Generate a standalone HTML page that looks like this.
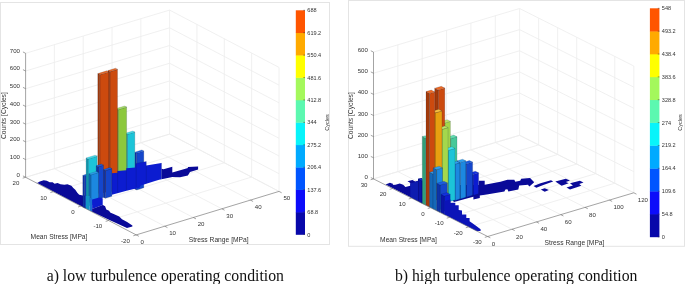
<!DOCTYPE html>
<html><head><meta charset="utf-8"><title>Rainflow histograms</title>
<style>html,body{margin:0;padding:0;background:#fff;overflow:hidden}svg{display:block}</style>
</head><body>
<svg width="685" height="284" viewBox="0 0 685 284" font-family="Liberation Sans, Arial, sans-serif">
<rect x="0" y="0" width="685" height="284" fill="#fff"/>
<rect x="0.5" y="2.5" width="329" height="242" fill="none" stroke="#e4e4e4" stroke-width="1"/>
<rect x="348.5" y="0.5" width="336" height="245.8" fill="none" stroke="#e4e4e4" stroke-width="1"/>
<line x1="25.60" y1="177.30" x2="169.60" y2="134.10" stroke="#ececec" stroke-width="0.8" />
<line x1="169.60" y1="134.10" x2="279.00" y2="191.40" stroke="#ececec" stroke-width="0.8" />
<line x1="25.60" y1="159.59" x2="169.60" y2="116.39" stroke="#ececec" stroke-width="0.8" />
<line x1="169.60" y1="116.39" x2="279.00" y2="173.69" stroke="#ececec" stroke-width="0.8" />
<line x1="25.60" y1="141.87" x2="169.60" y2="98.67" stroke="#ececec" stroke-width="0.8" />
<line x1="169.60" y1="98.67" x2="279.00" y2="155.97" stroke="#ececec" stroke-width="0.8" />
<line x1="25.60" y1="124.16" x2="169.60" y2="80.96" stroke="#ececec" stroke-width="0.8" />
<line x1="169.60" y1="80.96" x2="279.00" y2="138.26" stroke="#ececec" stroke-width="0.8" />
<line x1="25.60" y1="106.44" x2="169.60" y2="63.24" stroke="#ececec" stroke-width="0.8" />
<line x1="169.60" y1="63.24" x2="279.00" y2="120.54" stroke="#ececec" stroke-width="0.8" />
<line x1="25.60" y1="88.73" x2="169.60" y2="45.53" stroke="#ececec" stroke-width="0.8" />
<line x1="169.60" y1="45.53" x2="279.00" y2="102.83" stroke="#ececec" stroke-width="0.8" />
<line x1="25.60" y1="71.01" x2="169.60" y2="27.81" stroke="#ececec" stroke-width="0.8" />
<line x1="169.60" y1="27.81" x2="279.00" y2="85.11" stroke="#ececec" stroke-width="0.8" />
<line x1="25.60" y1="53.30" x2="169.60" y2="10.10" stroke="#ececec" stroke-width="0.8" />
<line x1="169.60" y1="10.10" x2="279.00" y2="67.40" stroke="#ececec" stroke-width="0.8" />
<line x1="54.40" y1="168.66" x2="54.40" y2="44.66" stroke="#ececec" stroke-width="0.8" />
<line x1="54.40" y1="168.66" x2="164.76" y2="226.20" stroke="#ececec" stroke-width="0.8" />
<line x1="83.20" y1="160.02" x2="83.20" y2="36.02" stroke="#ececec" stroke-width="0.8" />
<line x1="83.20" y1="160.02" x2="193.32" y2="217.50" stroke="#ececec" stroke-width="0.8" />
<line x1="112.00" y1="151.38" x2="112.00" y2="27.38" stroke="#ececec" stroke-width="0.8" />
<line x1="112.00" y1="151.38" x2="221.88" y2="208.80" stroke="#ececec" stroke-width="0.8" />
<line x1="140.80" y1="142.74" x2="140.80" y2="18.74" stroke="#ececec" stroke-width="0.8" />
<line x1="140.80" y1="142.74" x2="250.44" y2="200.10" stroke="#ececec" stroke-width="0.8" />
<line x1="169.60" y1="134.10" x2="169.60" y2="10.10" stroke="#ececec" stroke-width="0.8" />
<line x1="196.95" y1="148.43" x2="196.95" y2="24.43" stroke="#ececec" stroke-width="0.8" />
<line x1="196.95" y1="148.43" x2="53.25" y2="191.70" stroke="#ececec" stroke-width="0.8" />
<line x1="224.30" y1="162.75" x2="224.30" y2="38.75" stroke="#ececec" stroke-width="0.8" />
<line x1="224.30" y1="162.75" x2="80.90" y2="206.10" stroke="#ececec" stroke-width="0.8" />
<line x1="251.65" y1="177.07" x2="251.65" y2="53.07" stroke="#ececec" stroke-width="0.8" />
<line x1="251.65" y1="177.07" x2="108.55" y2="220.50" stroke="#ececec" stroke-width="0.8" />
<line x1="279.00" y1="191.40" x2="279.00" y2="67.40" stroke="#ececec" stroke-width="0.8" />
<line x1="25.60" y1="177.30" x2="169.60" y2="134.10" stroke="#ececec" stroke-width="0.8" />
<line x1="169.60" y1="134.10" x2="279.00" y2="191.40" stroke="#ececec" stroke-width="0.8" />
<line x1="373.50" y1="178.90" x2="519.60" y2="135.30" stroke="#ececec" stroke-width="0.8" />
<line x1="519.60" y1="135.30" x2="633.80" y2="192.80" stroke="#ececec" stroke-width="0.8" />
<line x1="373.50" y1="157.77" x2="519.60" y2="114.17" stroke="#ececec" stroke-width="0.8" />
<line x1="519.60" y1="114.17" x2="633.80" y2="171.67" stroke="#ececec" stroke-width="0.8" />
<line x1="373.50" y1="136.63" x2="519.60" y2="93.03" stroke="#ececec" stroke-width="0.8" />
<line x1="519.60" y1="93.03" x2="633.80" y2="150.53" stroke="#ececec" stroke-width="0.8" />
<line x1="373.50" y1="115.50" x2="519.60" y2="71.90" stroke="#ececec" stroke-width="0.8" />
<line x1="519.60" y1="71.90" x2="633.80" y2="129.40" stroke="#ececec" stroke-width="0.8" />
<line x1="373.50" y1="94.37" x2="519.60" y2="50.77" stroke="#ececec" stroke-width="0.8" />
<line x1="519.60" y1="50.77" x2="633.80" y2="108.27" stroke="#ececec" stroke-width="0.8" />
<line x1="373.50" y1="73.23" x2="519.60" y2="29.63" stroke="#ececec" stroke-width="0.8" />
<line x1="519.60" y1="29.63" x2="633.80" y2="87.13" stroke="#ececec" stroke-width="0.8" />
<line x1="373.50" y1="52.10" x2="519.60" y2="8.50" stroke="#ececec" stroke-width="0.8" />
<line x1="519.60" y1="8.50" x2="633.80" y2="66.00" stroke="#ececec" stroke-width="0.8" />
<line x1="397.85" y1="171.63" x2="397.85" y2="44.83" stroke="#ececec" stroke-width="0.8" />
<line x1="397.85" y1="171.63" x2="512.05" y2="229.22" stroke="#ececec" stroke-width="0.8" />
<line x1="422.20" y1="164.37" x2="422.20" y2="37.57" stroke="#ececec" stroke-width="0.8" />
<line x1="422.20" y1="164.37" x2="536.40" y2="221.93" stroke="#ececec" stroke-width="0.8" />
<line x1="446.55" y1="157.10" x2="446.55" y2="30.30" stroke="#ececec" stroke-width="0.8" />
<line x1="446.55" y1="157.10" x2="560.75" y2="214.65" stroke="#ececec" stroke-width="0.8" />
<line x1="470.90" y1="149.83" x2="470.90" y2="23.03" stroke="#ececec" stroke-width="0.8" />
<line x1="470.90" y1="149.83" x2="585.10" y2="207.37" stroke="#ececec" stroke-width="0.8" />
<line x1="495.25" y1="142.57" x2="495.25" y2="15.77" stroke="#ececec" stroke-width="0.8" />
<line x1="495.25" y1="142.57" x2="609.45" y2="200.08" stroke="#ececec" stroke-width="0.8" />
<line x1="519.60" y1="135.30" x2="519.60" y2="8.50" stroke="#ececec" stroke-width="0.8" />
<line x1="538.63" y1="144.88" x2="538.63" y2="18.08" stroke="#ececec" stroke-width="0.8" />
<line x1="538.63" y1="144.88" x2="392.53" y2="188.50" stroke="#ececec" stroke-width="0.8" />
<line x1="557.67" y1="154.47" x2="557.67" y2="27.67" stroke="#ececec" stroke-width="0.8" />
<line x1="557.67" y1="154.47" x2="411.57" y2="198.10" stroke="#ececec" stroke-width="0.8" />
<line x1="576.70" y1="164.05" x2="576.70" y2="37.25" stroke="#ececec" stroke-width="0.8" />
<line x1="576.70" y1="164.05" x2="430.60" y2="207.70" stroke="#ececec" stroke-width="0.8" />
<line x1="595.73" y1="173.63" x2="595.73" y2="46.83" stroke="#ececec" stroke-width="0.8" />
<line x1="595.73" y1="173.63" x2="449.63" y2="217.30" stroke="#ececec" stroke-width="0.8" />
<line x1="614.77" y1="183.22" x2="614.77" y2="56.42" stroke="#ececec" stroke-width="0.8" />
<line x1="614.77" y1="183.22" x2="468.67" y2="226.90" stroke="#ececec" stroke-width="0.8" />
<line x1="633.80" y1="192.80" x2="633.80" y2="66.00" stroke="#ececec" stroke-width="0.8" />
<line x1="373.50" y1="178.90" x2="519.60" y2="135.30" stroke="#ececec" stroke-width="0.8" />
<line x1="519.60" y1="135.30" x2="633.80" y2="192.80" stroke="#ececec" stroke-width="0.8" />
<polygon points="36.8,183.2 39.8,181.4 43.7,180.3 46.7,180.8 49.7,182.2 52.6,182.2 54.6,183.8 57.5,183.0 60.5,184.2 64.4,184.8 67.4,184.2 71.4,185.8 73.3,188.1 75.3,189.7 77.3,192.7 79.2,194.7 82.8,195.6 85.8,195.6 85.8,208.4 36.8,182.7" fill="#0a0a98"/>
<polygon points="161.5,168.8 163.5,169.3 172.3,166.7 172.3,172.5 182.0,169.8 187.9,168.0 187.9,167.0 198.1,166.5 198.1,169.4 190.0,172.0 187.9,175.6 180.0,177.3 172.3,177.0 170.0,177.4 161.5,179.2" fill="#0a0a98"/>
<polygon points="84.8,176.3 89.0,175.0 89.0,206.7 84.8,208.0" fill="#1446cc" stroke="#00103066" stroke-width="0.4" stroke-linejoin="round"/>
<polygon points="82.8,175.3 84.8,176.3 84.8,208.0 82.8,207.0" fill="#0e34a8" stroke="#00103066" stroke-width="0.4" stroke-linejoin="round"/>
<polygon points="84.8,176.3 89.0,175.0 87.0,174.0 82.8,175.3" fill="#1c5ce0" stroke="#00103066" stroke-width="0.4" stroke-linejoin="round"/>
<polygon points="136.6,153.2 143.8,151.0 143.8,187.8 136.6,190.0" fill="#1446cc" stroke="#00103066" stroke-width="0.4" stroke-linejoin="round"/>
<polygon points="134.6,152.2 136.6,153.2 136.6,190.0 134.6,189.0" fill="#0e34a8" stroke="#00103066" stroke-width="0.4" stroke-linejoin="round"/>
<polygon points="136.6,153.2 143.8,151.0 141.8,149.9 134.6,152.2" fill="#1c5ce0" stroke="#00103066" stroke-width="0.4" stroke-linejoin="round"/>
<polygon points="127.4,134.3 134.8,132.0 134.8,187.7 127.4,190.0" fill="#1cc4d8" stroke="#00103066" stroke-width="0.4" stroke-linejoin="round"/>
<polygon points="125.4,133.3 127.4,134.3 127.4,190.0 125.4,189.0" fill="#149cb0" stroke="#00103066" stroke-width="0.4" stroke-linejoin="round"/>
<polygon points="127.4,134.3 134.8,132.0 132.8,131.0 125.4,133.3" fill="#40e4f0" stroke="#00103066" stroke-width="0.4" stroke-linejoin="round"/>
<polygon points="118.2,109.6 126.6,107.0 126.6,187.4 118.2,190.0" fill="#8cc83c" stroke="#00103066" stroke-width="0.4" stroke-linejoin="round"/>
<polygon points="116.2,108.6 118.2,109.6 118.2,190.0 116.2,189.0" fill="#6c9c2c" stroke="#00103066" stroke-width="0.4" stroke-linejoin="round"/>
<polygon points="118.2,109.6 126.6,107.0 124.6,106.0 116.2,108.6" fill="#acE464" stroke="#00103066" stroke-width="0.4" stroke-linejoin="round"/>
<polygon points="109.9,71.6 117.5,69.3 117.5,189.7 109.9,192.0" fill="#cc4a0e" stroke="#00103066" stroke-width="0.4" stroke-linejoin="round"/>
<polygon points="107.9,70.6 109.9,71.6 109.9,192.0 107.9,191.0" fill="#a43a0a" stroke="#00103066" stroke-width="0.4" stroke-linejoin="round"/>
<polygon points="109.9,71.6 117.5,69.3 115.5,68.2 107.9,70.6" fill="#ee6a24" stroke="#00103066" stroke-width="0.4" stroke-linejoin="round"/>
<polygon points="99.8,74.6 108.7,71.9 108.7,191.3 99.8,194.0" fill="#cc4a0e" stroke="#00103066" stroke-width="0.4" stroke-linejoin="round"/>
<polygon points="97.8,73.6 99.8,74.6 99.8,194.0 97.8,193.0" fill="#a43a0a" stroke="#00103066" stroke-width="0.4" stroke-linejoin="round"/>
<polygon points="99.8,74.6 108.7,71.9 106.7,70.8 97.8,73.6" fill="#ee6a24" stroke="#00103066" stroke-width="0.4" stroke-linejoin="round"/>
<polygon points="88.1,159.0 97.1,156.2 97.1,203.2 88.1,206.0" fill="#1cc4d8" stroke="#00103066" stroke-width="0.4" stroke-linejoin="round"/>
<polygon points="86.1,158.0 88.1,159.0 88.1,206.0 86.1,205.0" fill="#149cb0" stroke="#00103066" stroke-width="0.4" stroke-linejoin="round"/>
<polygon points="88.1,159.0 97.1,156.2 95.1,155.2 86.1,158.0" fill="#40e4f0" stroke="#00103066" stroke-width="0.4" stroke-linejoin="round"/>
<polygon points="111.8,173.2 117.6,172.8 117.6,170.9 126.4,170.3 126.4,168.3 135.4,167.6 136.2,163.4 146.3,161.4 146.3,165.6 161.5,162.9 161.5,179.2 159.2,179.7 155.0,180.9 140.8,185.6 139.4,187.7 127.4,190.5 111.9,194.7" fill="#0c1cd0"/>
<path d="M136.2,187 V163.4 L146.3,161.4 V183.5 M161.5,162.9 V178.5 M126.4,168.3 V190 M117.6,170.9 V192.5" fill="none" stroke="#00104055" stroke-width="0.5"/>
<polygon points="105.3,170.6 111.9,168.6 111.9,196.2 105.3,198.2" fill="#1446cc" stroke="#00103066" stroke-width="0.4" stroke-linejoin="round"/>
<polygon points="103.3,169.6 105.3,170.6 105.3,198.2 103.3,197.2" fill="#0e34a8" stroke="#00103066" stroke-width="0.4" stroke-linejoin="round"/>
<polygon points="105.3,170.6 111.9,168.6 109.9,167.5 103.3,169.6" fill="#1c5ce0" stroke="#00103066" stroke-width="0.4" stroke-linejoin="round"/>
<polygon points="98.2,166.8 103.5,165.2 103.5,197.4 98.2,199.0" fill="#1446cc" stroke="#00103066" stroke-width="0.4" stroke-linejoin="round"/>
<polygon points="96.2,165.8 98.2,166.8 98.2,199.0 96.2,198.0" fill="#0e34a8" stroke="#00103066" stroke-width="0.4" stroke-linejoin="round"/>
<polygon points="98.2,166.8 103.5,165.2 101.5,164.1 96.2,165.8" fill="#1c5ce0" stroke="#00103066" stroke-width="0.4" stroke-linejoin="round"/>
<polygon points="90.9,174.8 98.6,172.4 98.6,200.6 90.9,203.0" fill="#1c88e0" stroke="#00103066" stroke-width="0.4" stroke-linejoin="round"/>
<polygon points="88.9,173.8 90.9,174.8 90.9,203.0 88.9,202.0" fill="#1468b8" stroke="#00103066" stroke-width="0.4" stroke-linejoin="round"/>
<polygon points="90.9,174.8 98.6,172.4 96.6,171.4 88.9,173.8" fill="#30a0f0" stroke="#00103066" stroke-width="0.4" stroke-linejoin="round"/>
<polygon points="85.8,196.0 89.7,196.0 89.7,210.4 85.8,208.4" fill="#1494c4"/>
<polygon points="89.7,198.0 92.1,198.0 92.1,211.7 89.7,210.4" fill="#1870d4"/>
<polygon points="92.1,199.5 99.2,197.5 102.7,198.2 102.7,205.0 92.1,209.0" fill="#0c1cd0"/>
<polygon points="92.1,209.0 102.7,205.0 102.9,205.1 105.1,206.3 106.3,209.6 109.1,210.8 110.2,212.5 115.3,214.7 119.2,216.4 122.0,219.2 127.1,222.0 132.4,225.4 132.4,226.6 127.0,228.0 110.0,220.3 92.1,211.7" fill="#0a0a98"/>
<polygon points="385.6,184.5 389.9,182.7 393.4,184.1 392.6,184.9 395.5,184.8 399.7,183.4 403.2,184.8 405.4,186.9 410.3,185.8 410.3,183.0 407.5,181.3 412.4,179.9 415.2,181.5 418.0,180.8 418.0,178.7 422.3,178.0 422.3,203.3" fill="#0a0a98"/>
<polygon points="410.3,183.4 415.2,182.0 418.0,181.2 418.0,201.2 410.3,197.3" fill="#0e1cb0"/>
<polygon points="533.5,186.1 540.5,183.3 551.0,180.2 553.2,181.6 543.3,185.0 536.3,187.8" fill="#0a0a98"/>
<polygon points="540.8,189.6 544.7,188.2 548.9,190.1 544.7,191.8" fill="#0a0a98"/>
<polygon points="555.3,181.6 565.8,178.7 570.0,180.5 565.8,181.9 568.7,183.3 561.6,185.8" fill="#0a0a98"/>
<polygon points="570.0,183.3 579.9,180.8 583.5,182.6 579.2,184.0 581.3,185.8 570.0,189.6 566.5,187.5 572.9,185.4" fill="#0a0a98"/>
<polygon points="478.8,180.7 484.7,180.7 484.7,184.7 492.6,183.3 500.5,181.7 507.4,179.7 514.3,179.7 515.3,181.7 520.2,180.7 521.2,178.7 530.1,178.1 534.2,182.2 530.6,185.4 529.1,186.6 528.1,184.7 519.2,185.6 518.3,189.6 508.4,191.6 507.4,189.2 505.4,189.6 504.4,191.6 486.7,194.5 479.8,195.5 479.8,197.9 473.4,199.6 473.4,196.8 465.0,199.0 454.0,202.0 452.0,199.8 452.0,185.0 478.8,185.0" fill="#0a0a98"/>
<polygon points="450.6,138.6 457.0,136.7 457.0,196.1 450.6,198.0" fill="#48c898" stroke="#00103066" stroke-width="0.4" stroke-linejoin="round"/>
<polygon points="447.4,137.0 450.6,138.6 450.6,198.0 447.4,196.4" fill="#30a078" stroke="#00103066" stroke-width="0.4" stroke-linejoin="round"/>
<polygon points="450.6,138.6 457.0,136.7 453.8,135.1 447.4,137.0" fill="#60e0b0" stroke="#00103066" stroke-width="0.4" stroke-linejoin="round"/>
<polygon points="444.6,123.0 450.4,121.3 450.4,196.3 444.6,198.0" fill="#a4d84c" stroke="#00103066" stroke-width="0.4" stroke-linejoin="round"/>
<polygon points="441.4,121.4 444.6,123.0 444.6,198.0 441.4,196.4" fill="#80b038" stroke="#00103066" stroke-width="0.4" stroke-linejoin="round"/>
<polygon points="444.6,123.0 450.4,121.3 447.2,119.7 441.4,121.4" fill="#bce868" stroke="#00103066" stroke-width="0.4" stroke-linejoin="round"/>
<polygon points="438.2,90.0 444.8,88.1 444.8,198.1 438.2,200.0" fill="#cc4a0e" stroke="#00103066" stroke-width="0.4" stroke-linejoin="round"/>
<polygon points="434.7,88.2 438.2,90.0 438.2,200.0 434.7,198.2" fill="#a43a0a" stroke="#00103066" stroke-width="0.4" stroke-linejoin="round"/>
<polygon points="438.2,90.0 444.8,88.1 441.3,86.3 434.7,88.2" fill="#ee6a24" stroke="#00103066" stroke-width="0.4" stroke-linejoin="round"/>
<polygon points="421.9,180.8 424.0,180.2 424.0,202.6 421.9,203.2" fill="#0c1cd0" stroke="#00103066" stroke-width="0.4" stroke-linejoin="round"/>
<polygon points="418.5,179.1 421.9,180.8 421.9,203.2 418.5,201.5" fill="#0a14a8" stroke="#00103066" stroke-width="0.4" stroke-linejoin="round"/>
<polygon points="421.9,180.8 424.0,180.2 420.6,178.5 418.5,179.1" fill="#1430e0" stroke="#00103066" stroke-width="0.4" stroke-linejoin="round"/>
<polygon points="425.7,138.2 428.5,137.4 428.5,204.3 425.7,205.1" fill="#48c898" stroke="#00103066" stroke-width="0.4" stroke-linejoin="round"/>
<polygon points="422.3,136.5 425.7,138.2 425.7,205.1 422.3,203.4" fill="#30a078" stroke="#00103066" stroke-width="0.4" stroke-linejoin="round"/>
<polygon points="425.7,138.2 428.5,137.4 425.1,135.7 422.3,136.5" fill="#60e0b0" stroke="#00103066" stroke-width="0.4" stroke-linejoin="round"/>
<polygon points="473.1,174.4 478.6,172.8 478.6,193.8 473.1,195.4" fill="#0c1cd0" stroke="#00103066" stroke-width="0.4" stroke-linejoin="round"/>
<polygon points="469.9,172.8 473.1,174.4 473.1,195.4 469.9,193.8" fill="#0a14a8" stroke="#00103066" stroke-width="0.4" stroke-linejoin="round"/>
<polygon points="473.1,174.4 478.6,172.8 475.4,171.2 469.9,172.8" fill="#1430e0" stroke="#00103066" stroke-width="0.4" stroke-linejoin="round"/>
<polygon points="466.2,164.0 472.6,162.1 472.6,195.3 466.2,197.2" fill="#1446cc" stroke="#00103066" stroke-width="0.4" stroke-linejoin="round"/>
<polygon points="463.0,162.4 466.2,164.0 466.2,197.2 463.0,195.6" fill="#0e34a8" stroke="#00103066" stroke-width="0.4" stroke-linejoin="round"/>
<polygon points="466.2,164.0 472.6,162.1 469.4,160.5 463.0,162.4" fill="#1c5ce0" stroke="#00103066" stroke-width="0.4" stroke-linejoin="round"/>
<polygon points="460.2,162.4 465.8,160.8 465.8,197.3 460.2,198.9" fill="#1c88e0" stroke="#00103066" stroke-width="0.4" stroke-linejoin="round"/>
<polygon points="457.0,160.8 460.2,162.4 460.2,198.9 457.0,197.3" fill="#1468b8" stroke="#00103066" stroke-width="0.4" stroke-linejoin="round"/>
<polygon points="460.2,162.4 465.8,160.8 462.6,159.2 457.0,160.8" fill="#30a0f0" stroke="#00103066" stroke-width="0.4" stroke-linejoin="round"/>
<polygon points="455.0,164.2 459.8,162.8 459.8,199.0 455.0,200.4" fill="#1c88e0" stroke="#00103066" stroke-width="0.4" stroke-linejoin="round"/>
<polygon points="451.8,162.6 455.0,164.2 455.0,200.4 451.8,198.8" fill="#1468b8" stroke="#00103066" stroke-width="0.4" stroke-linejoin="round"/>
<polygon points="455.0,164.2 459.8,162.8 456.6,161.2 451.8,162.6" fill="#30a0f0" stroke="#00103066" stroke-width="0.4" stroke-linejoin="round"/>
<polygon points="448.2,150.4 455.0,148.4 455.0,200.0 448.2,202.0" fill="#1cc4d8" stroke="#00103066" stroke-width="0.4" stroke-linejoin="round"/>
<polygon points="445.0,148.8 448.2,150.4 448.2,202.0 445.0,200.4" fill="#149cb0" stroke="#00103066" stroke-width="0.4" stroke-linejoin="round"/>
<polygon points="448.2,150.4 455.0,148.4 451.8,146.8 445.0,148.8" fill="#40e4f0" stroke="#00103066" stroke-width="0.4" stroke-linejoin="round"/>
<polygon points="442.0,129.4 448.1,127.6 448.1,198.2 442.0,200.0" fill="#a4d84c" stroke="#00103066" stroke-width="0.4" stroke-linejoin="round"/>
<polygon points="438.8,127.8 442.0,129.4 442.0,200.0 438.8,198.4" fill="#80b038" stroke="#00103066" stroke-width="0.4" stroke-linejoin="round"/>
<polygon points="442.0,129.4 448.1,127.6 444.9,126.0 438.8,127.8" fill="#bce868" stroke="#00103066" stroke-width="0.4" stroke-linejoin="round"/>
<polygon points="435.4,112.8 442.0,110.9 442.0,198.1 435.4,200.0" fill="#e8a010" stroke="#00103066" stroke-width="0.4" stroke-linejoin="round"/>
<polygon points="432.2,111.2 435.4,112.8 435.4,200.0 432.2,198.4" fill="#b87c0c" stroke="#00103066" stroke-width="0.4" stroke-linejoin="round"/>
<polygon points="435.4,112.8 442.0,110.9 438.8,109.3 432.2,111.2" fill="#f8c040" stroke="#00103066" stroke-width="0.4" stroke-linejoin="round"/>
<polygon points="429.5,93.4 434.8,91.9 434.8,205.5 429.5,207.0" fill="#cc4a0e" stroke="#00103066" stroke-width="0.4" stroke-linejoin="round"/>
<polygon points="426.0,91.6 429.5,93.4 429.5,207.0 426.0,205.2" fill="#a43a0a" stroke="#00103066" stroke-width="0.4" stroke-linejoin="round"/>
<polygon points="429.5,93.4 434.8,91.9 431.3,90.1 426.0,91.6" fill="#ee6a24" stroke="#00103066" stroke-width="0.4" stroke-linejoin="round"/>
<polygon points="434.8,113.4 436.0,112.8 436.0,200.0 434.8,200.0" fill="#b87c0c"/>
<polygon points="433.0,174.0 436.0,173.1 436.0,207.9 433.0,208.8" fill="#1c88e0" stroke="#00103066" stroke-width="0.4" stroke-linejoin="round"/>
<polygon points="429.6,172.3 433.0,174.0 433.0,208.8 429.6,207.0" fill="#1468b8" stroke="#00103066" stroke-width="0.4" stroke-linejoin="round"/>
<polygon points="433.0,174.0 436.0,173.1 432.6,171.4 429.6,172.3" fill="#30a0f0" stroke="#00103066" stroke-width="0.4" stroke-linejoin="round"/>
<polygon points="436.6,169.6 442.5,167.9 442.5,208.9 436.6,210.6" fill="#1c88e0" stroke="#00103066" stroke-width="0.4" stroke-linejoin="round"/>
<polygon points="433.2,167.9 436.6,169.6 436.6,210.6 433.2,208.9" fill="#1468b8" stroke="#00103066" stroke-width="0.4" stroke-linejoin="round"/>
<polygon points="436.6,169.6 442.5,167.9 439.1,166.2 433.2,167.9" fill="#30a0f0" stroke="#00103066" stroke-width="0.4" stroke-linejoin="round"/>
<polygon points="440.2,185.0 447.4,182.9 447.4,210.3 440.2,212.4" fill="#1446cc" stroke="#00103066" stroke-width="0.4" stroke-linejoin="round"/>
<polygon points="436.8,183.3 440.2,185.0 440.2,212.4 436.8,210.7" fill="#0e34a8" stroke="#00103066" stroke-width="0.4" stroke-linejoin="round"/>
<polygon points="440.2,185.0 447.4,182.9 444.0,181.2 436.8,183.3" fill="#1c5ce0" stroke="#00103066" stroke-width="0.4" stroke-linejoin="round"/>
<polygon points="444.4,196.0 450.2,194.3 450.2,212.9 444.4,214.5" fill="#0c1cd0" stroke="#00103066" stroke-width="0.4" stroke-linejoin="round"/>
<polygon points="441.0,194.3 444.4,196.0 444.4,214.5 441.0,212.8" fill="#0a14a8" stroke="#00103066" stroke-width="0.4" stroke-linejoin="round"/>
<polygon points="444.4,196.0 450.2,194.3 446.8,192.6 441.0,194.3" fill="#1430e0" stroke="#00103066" stroke-width="0.4" stroke-linejoin="round"/>
<polygon points="444.4,214.5 444.4,201.0 450.5,199.4 450.5,202.7 455.3,202.7 455.3,205.3 458.7,205.3 458.7,210.0 462.0,210.4 462.0,214.6 466.3,214.6 466.3,218.0 469.6,218.0 469.6,221.3 475.6,225.6 480.6,229.3 480.6,231.0 476.6,230.9" fill="#0c14b8"/>
<line x1="25.60" y1="177.30" x2="25.60" y2="53.30" stroke="#666" stroke-width="0.6" />
<line x1="25.60" y1="177.30" x2="136.20" y2="234.90" stroke="#666" stroke-width="0.6" />
<line x1="136.20" y1="234.90" x2="279.00" y2="191.40" stroke="#666" stroke-width="0.6" />
<line x1="25.60" y1="177.30" x2="22.94" y2="175.91" stroke="#666" stroke-width="0.6" />
<text x="20.00" y="176.70" font-size="6.1" text-anchor="end" fill="#333" >0</text>
<line x1="25.60" y1="159.59" x2="22.94" y2="158.20" stroke="#666" stroke-width="0.6" />
<text x="20.00" y="158.99" font-size="6.1" text-anchor="end" fill="#333" >100</text>
<line x1="25.60" y1="141.87" x2="22.94" y2="140.49" stroke="#666" stroke-width="0.6" />
<text x="20.00" y="141.27" font-size="6.1" text-anchor="end" fill="#333" >200</text>
<line x1="25.60" y1="124.16" x2="22.94" y2="122.77" stroke="#666" stroke-width="0.6" />
<text x="20.00" y="123.56" font-size="6.1" text-anchor="end" fill="#333" >300</text>
<line x1="25.60" y1="106.44" x2="22.94" y2="105.06" stroke="#666" stroke-width="0.6" />
<text x="20.00" y="105.84" font-size="6.1" text-anchor="end" fill="#333" >400</text>
<line x1="25.60" y1="88.73" x2="22.94" y2="87.34" stroke="#666" stroke-width="0.6" />
<text x="20.00" y="88.13" font-size="6.1" text-anchor="end" fill="#333" >500</text>
<line x1="25.60" y1="71.01" x2="22.94" y2="69.63" stroke="#666" stroke-width="0.6" />
<text x="20.00" y="70.41" font-size="6.1" text-anchor="end" fill="#333" >600</text>
<line x1="25.60" y1="53.30" x2="22.94" y2="51.91" stroke="#666" stroke-width="0.6" />
<text x="20.00" y="52.70" font-size="6.1" text-anchor="end" fill="#333" >700</text>
<line x1="25.60" y1="177.30" x2="22.73" y2="178.17" stroke="#666" stroke-width="0.6" />
<text x="19.30" y="185.20" font-size="6.1" text-anchor="end" fill="#333" >20</text>
<line x1="53.25" y1="191.70" x2="50.38" y2="192.57" stroke="#666" stroke-width="0.6" />
<text x="46.95" y="199.60" font-size="6.1" text-anchor="end" fill="#333" >10</text>
<line x1="80.90" y1="206.10" x2="78.03" y2="206.97" stroke="#666" stroke-width="0.6" />
<text x="74.60" y="214.00" font-size="6.1" text-anchor="end" fill="#333" >0</text>
<line x1="108.55" y1="220.50" x2="105.68" y2="221.37" stroke="#666" stroke-width="0.6" />
<text x="102.25" y="228.40" font-size="6.1" text-anchor="end" fill="#333" >-10</text>
<line x1="136.20" y1="234.90" x2="133.33" y2="235.77" stroke="#666" stroke-width="0.6" />
<text x="129.90" y="242.80" font-size="6.1" text-anchor="end" fill="#333" >-20</text>
<line x1="136.20" y1="234.90" x2="138.86" y2="236.29" stroke="#666" stroke-width="0.6" />
<text x="140.60" y="243.60" font-size="6.1" text-anchor="start" fill="#333" >0</text>
<line x1="164.76" y1="226.20" x2="167.42" y2="227.59" stroke="#666" stroke-width="0.6" />
<text x="169.16" y="234.90" font-size="6.1" text-anchor="start" fill="#333" >10</text>
<line x1="193.32" y1="217.50" x2="195.98" y2="218.89" stroke="#666" stroke-width="0.6" />
<text x="197.72" y="226.20" font-size="6.1" text-anchor="start" fill="#333" >20</text>
<line x1="221.88" y1="208.80" x2="224.54" y2="210.19" stroke="#666" stroke-width="0.6" />
<text x="226.28" y="217.50" font-size="6.1" text-anchor="start" fill="#333" >30</text>
<line x1="250.44" y1="200.10" x2="253.10" y2="201.49" stroke="#666" stroke-width="0.6" />
<text x="254.84" y="208.80" font-size="6.1" text-anchor="start" fill="#333" >40</text>
<line x1="279.00" y1="191.40" x2="281.66" y2="192.79" stroke="#666" stroke-width="0.6" />
<text x="283.40" y="200.10" font-size="6.1" text-anchor="start" fill="#333" >50</text>
<text x="5.80" y="115.60" font-size="6.7" text-anchor="middle" fill="#333" transform="rotate(-90 5.8 115.6)">Counts [Cycles]</text>
<text x="59.00" y="238.80" font-size="6.7" text-anchor="middle" fill="#333" >Mean Stress [MPa]</text>
<text x="218.70" y="242.40" font-size="6.7" text-anchor="middle" fill="#333" >Stress Range [MPa]</text>
<line x1="373.50" y1="178.90" x2="373.50" y2="52.10" stroke="#666" stroke-width="0.6" />
<line x1="373.50" y1="178.90" x2="487.70" y2="236.50" stroke="#666" stroke-width="0.6" />
<line x1="487.70" y1="236.50" x2="633.80" y2="192.80" stroke="#666" stroke-width="0.6" />
<line x1="373.50" y1="178.90" x2="370.82" y2="177.55" stroke="#666" stroke-width="0.6" />
<text x="367.90" y="178.90" font-size="6.1" text-anchor="end" fill="#333" >0</text>
<line x1="373.50" y1="157.77" x2="370.82" y2="156.42" stroke="#666" stroke-width="0.6" />
<text x="367.90" y="157.77" font-size="6.1" text-anchor="end" fill="#333" >100</text>
<line x1="373.50" y1="136.63" x2="370.82" y2="135.28" stroke="#666" stroke-width="0.6" />
<text x="367.90" y="136.63" font-size="6.1" text-anchor="end" fill="#333" >200</text>
<line x1="373.50" y1="115.50" x2="370.82" y2="114.15" stroke="#666" stroke-width="0.6" />
<text x="367.90" y="115.50" font-size="6.1" text-anchor="end" fill="#333" >300</text>
<line x1="373.50" y1="94.37" x2="370.82" y2="93.02" stroke="#666" stroke-width="0.6" />
<text x="367.90" y="94.37" font-size="6.1" text-anchor="end" fill="#333" >400</text>
<line x1="373.50" y1="73.23" x2="370.82" y2="71.88" stroke="#666" stroke-width="0.6" />
<text x="367.90" y="73.23" font-size="6.1" text-anchor="end" fill="#333" >500</text>
<line x1="373.50" y1="52.10" x2="370.82" y2="50.75" stroke="#666" stroke-width="0.6" />
<text x="367.90" y="52.10" font-size="6.1" text-anchor="end" fill="#333" >600</text>
<line x1="373.50" y1="178.90" x2="370.63" y2="179.76" stroke="#666" stroke-width="0.6" />
<text x="367.50" y="186.70" font-size="6.1" text-anchor="end" fill="#333" >30</text>
<line x1="392.53" y1="188.50" x2="389.66" y2="189.36" stroke="#666" stroke-width="0.6" />
<text x="386.53" y="196.30" font-size="6.1" text-anchor="end" fill="#333" >20</text>
<line x1="411.57" y1="198.10" x2="408.69" y2="198.96" stroke="#666" stroke-width="0.6" />
<text x="405.57" y="205.90" font-size="6.1" text-anchor="end" fill="#333" >10</text>
<line x1="430.60" y1="207.70" x2="427.73" y2="208.56" stroke="#666" stroke-width="0.6" />
<text x="424.60" y="215.50" font-size="6.1" text-anchor="end" fill="#333" >0</text>
<line x1="449.63" y1="217.30" x2="446.76" y2="218.16" stroke="#666" stroke-width="0.6" />
<text x="443.63" y="225.10" font-size="6.1" text-anchor="end" fill="#333" >-10</text>
<line x1="468.67" y1="226.90" x2="465.79" y2="227.76" stroke="#666" stroke-width="0.6" />
<text x="462.67" y="234.70" font-size="6.1" text-anchor="end" fill="#333" >-20</text>
<line x1="487.70" y1="236.50" x2="484.83" y2="237.36" stroke="#666" stroke-width="0.6" />
<text x="481.70" y="244.30" font-size="6.1" text-anchor="end" fill="#333" >-30</text>
<line x1="487.70" y1="236.50" x2="490.38" y2="237.85" stroke="#666" stroke-width="0.6" />
<text x="491.70" y="245.80" font-size="6.1" text-anchor="start" fill="#333" >0</text>
<line x1="512.05" y1="229.22" x2="514.73" y2="230.57" stroke="#666" stroke-width="0.6" />
<text x="516.05" y="238.52" font-size="6.1" text-anchor="start" fill="#333" >20</text>
<line x1="536.40" y1="221.93" x2="539.08" y2="223.28" stroke="#666" stroke-width="0.6" />
<text x="540.40" y="231.23" font-size="6.1" text-anchor="start" fill="#333" >40</text>
<line x1="560.75" y1="214.65" x2="563.43" y2="216.00" stroke="#666" stroke-width="0.6" />
<text x="564.75" y="223.95" font-size="6.1" text-anchor="start" fill="#333" >60</text>
<line x1="585.10" y1="207.37" x2="587.78" y2="208.72" stroke="#666" stroke-width="0.6" />
<text x="589.10" y="216.67" font-size="6.1" text-anchor="start" fill="#333" >80</text>
<line x1="609.45" y1="200.08" x2="612.13" y2="201.43" stroke="#666" stroke-width="0.6" />
<text x="613.45" y="209.38" font-size="6.1" text-anchor="start" fill="#333" >100</text>
<line x1="633.80" y1="192.80" x2="636.48" y2="194.15" stroke="#666" stroke-width="0.6" />
<text x="637.80" y="202.10" font-size="6.1" text-anchor="start" fill="#333" >120</text>
<text x="353.40" y="115.60" font-size="6.7" text-anchor="middle" fill="#333" transform="rotate(-90 353.4 115.6)">Counts [Cycles]</text>
<text x="408.50" y="241.60" font-size="6.7" text-anchor="middle" fill="#333" >Mean Stress [MPa]</text>
<text x="574.50" y="244.80" font-size="6.7" text-anchor="middle" fill="#333" >Stress Range [MPa]</text>
<rect x="295.80" y="212.08" width="9.20" height="22.72" fill="#0808aa"/>
<rect x="295.80" y="189.66" width="9.20" height="22.72" fill="#0c0cfa"/>
<rect x="295.80" y="167.24" width="9.20" height="22.72" fill="#0055ff"/>
<rect x="295.80" y="144.82" width="9.20" height="22.72" fill="#00aaff"/>
<rect x="295.80" y="122.40" width="9.20" height="22.72" fill="#08f4fa"/>
<rect x="295.80" y="99.98" width="9.20" height="22.72" fill="#5cf8b0"/>
<rect x="295.80" y="77.56" width="9.20" height="22.72" fill="#a4f85c"/>
<rect x="295.80" y="55.14" width="9.20" height="22.72" fill="#ffff00"/>
<rect x="295.80" y="32.72" width="9.20" height="22.72" fill="#ffaa00"/>
<rect x="295.80" y="10.30" width="9.20" height="22.72" fill="#ff5500"/>
<text x="307.30" y="236.50" font-size="5.55" text-anchor="start" fill="#333" >0</text>
<line x1="303.40" y1="234.50" x2="305.00" y2="234.50" stroke="#333" stroke-width="0.5" />
<text x="307.30" y="214.08" font-size="5.55" text-anchor="start" fill="#333" >68.8</text>
<line x1="303.40" y1="212.08" x2="305.00" y2="212.08" stroke="#333" stroke-width="0.5" />
<text x="307.30" y="191.66" font-size="5.55" text-anchor="start" fill="#333" >137.6</text>
<line x1="303.40" y1="189.66" x2="305.00" y2="189.66" stroke="#333" stroke-width="0.5" />
<text x="307.30" y="169.24" font-size="5.55" text-anchor="start" fill="#333" >206.4</text>
<line x1="303.40" y1="167.24" x2="305.00" y2="167.24" stroke="#333" stroke-width="0.5" />
<text x="307.30" y="146.82" font-size="5.55" text-anchor="start" fill="#333" >275.2</text>
<line x1="303.40" y1="144.82" x2="305.00" y2="144.82" stroke="#333" stroke-width="0.5" />
<text x="307.30" y="124.40" font-size="5.55" text-anchor="start" fill="#333" >344</text>
<line x1="303.40" y1="122.40" x2="305.00" y2="122.40" stroke="#333" stroke-width="0.5" />
<text x="307.30" y="101.98" font-size="5.55" text-anchor="start" fill="#333" >412.8</text>
<line x1="303.40" y1="99.98" x2="305.00" y2="99.98" stroke="#333" stroke-width="0.5" />
<text x="307.30" y="79.56" font-size="5.55" text-anchor="start" fill="#333" >481.6</text>
<line x1="303.40" y1="77.56" x2="305.00" y2="77.56" stroke="#333" stroke-width="0.5" />
<text x="307.30" y="57.14" font-size="5.55" text-anchor="start" fill="#333" >550.4</text>
<line x1="303.40" y1="55.14" x2="305.00" y2="55.14" stroke="#333" stroke-width="0.5" />
<text x="307.30" y="34.72" font-size="5.55" text-anchor="start" fill="#333" >619.2</text>
<line x1="303.40" y1="32.72" x2="305.00" y2="32.72" stroke="#333" stroke-width="0.5" />
<text x="307.30" y="12.30" font-size="5.55" text-anchor="start" fill="#333" >688</text>
<line x1="303.40" y1="10.30" x2="305.00" y2="10.30" stroke="#333" stroke-width="0.5" />
<text x="328.50" y="122.50" font-size="5.5" text-anchor="middle" fill="#333" transform="rotate(-90 328.5 122.5)">Cycles</text>
<rect x="649.90" y="214.04" width="9.50" height="23.16" fill="#0808aa"/>
<rect x="649.90" y="191.18" width="9.50" height="23.16" fill="#0c0cfa"/>
<rect x="649.90" y="168.32" width="9.50" height="23.16" fill="#0055ff"/>
<rect x="649.90" y="145.46" width="9.50" height="23.16" fill="#00aaff"/>
<rect x="649.90" y="122.60" width="9.50" height="23.16" fill="#08f4fa"/>
<rect x="649.90" y="99.74" width="9.50" height="23.16" fill="#5cf8b0"/>
<rect x="649.90" y="76.88" width="9.50" height="23.16" fill="#a4f85c"/>
<rect x="649.90" y="54.02" width="9.50" height="23.16" fill="#ffff00"/>
<rect x="649.90" y="31.16" width="9.50" height="23.16" fill="#ffaa00"/>
<rect x="649.90" y="8.30" width="9.50" height="23.16" fill="#ff5500"/>
<text x="661.80" y="238.90" font-size="5.55" text-anchor="start" fill="#333" >0</text>
<line x1="657.80" y1="236.90" x2="659.40" y2="236.90" stroke="#333" stroke-width="0.5" />
<text x="661.80" y="216.04" font-size="5.55" text-anchor="start" fill="#333" >54.8</text>
<line x1="657.80" y1="214.04" x2="659.40" y2="214.04" stroke="#333" stroke-width="0.5" />
<text x="661.80" y="193.18" font-size="5.55" text-anchor="start" fill="#333" >109.6</text>
<line x1="657.80" y1="191.18" x2="659.40" y2="191.18" stroke="#333" stroke-width="0.5" />
<text x="661.80" y="170.32" font-size="5.55" text-anchor="start" fill="#333" >164.4</text>
<line x1="657.80" y1="168.32" x2="659.40" y2="168.32" stroke="#333" stroke-width="0.5" />
<text x="661.80" y="147.46" font-size="5.55" text-anchor="start" fill="#333" >219.2</text>
<line x1="657.80" y1="145.46" x2="659.40" y2="145.46" stroke="#333" stroke-width="0.5" />
<text x="661.80" y="124.60" font-size="5.55" text-anchor="start" fill="#333" >274</text>
<line x1="657.80" y1="122.60" x2="659.40" y2="122.60" stroke="#333" stroke-width="0.5" />
<text x="661.80" y="101.74" font-size="5.55" text-anchor="start" fill="#333" >328.8</text>
<line x1="657.80" y1="99.74" x2="659.40" y2="99.74" stroke="#333" stroke-width="0.5" />
<text x="661.80" y="78.88" font-size="5.55" text-anchor="start" fill="#333" >383.6</text>
<line x1="657.80" y1="76.88" x2="659.40" y2="76.88" stroke="#333" stroke-width="0.5" />
<text x="661.80" y="56.02" font-size="5.55" text-anchor="start" fill="#333" >438.4</text>
<line x1="657.80" y1="54.02" x2="659.40" y2="54.02" stroke="#333" stroke-width="0.5" />
<text x="661.80" y="33.16" font-size="5.55" text-anchor="start" fill="#333" >493.2</text>
<line x1="657.80" y1="31.16" x2="659.40" y2="31.16" stroke="#333" stroke-width="0.5" />
<text x="661.80" y="10.30" font-size="5.55" text-anchor="start" fill="#333" >548</text>
<line x1="657.80" y1="8.30" x2="659.40" y2="8.30" stroke="#333" stroke-width="0.5" />
<text x="682.40" y="122.50" font-size="5.5" text-anchor="middle" fill="#333" transform="rotate(-90 682.4 122.5)">Cycles</text>
<text x="165.3" y="280.7" font-family="Liberation Serif, Times New Roman, serif" font-size="15.78" text-anchor="middle" fill="#111">a) low turbulence operating condition</text>
<text x="516.2" y="280.5" font-family="Liberation Serif, Times New Roman, serif" font-size="15.78" text-anchor="middle" fill="#111">b) high turbulence operating condition</text>
</svg>
</body></html>
